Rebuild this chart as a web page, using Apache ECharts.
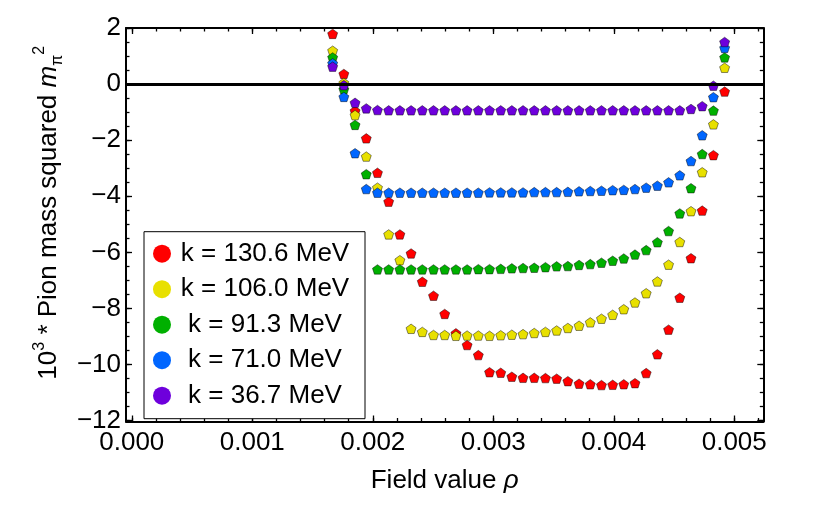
<!DOCTYPE html>
<html>
<head>
<meta charset="utf-8">
<script src="https://cdn.jsdelivr.net/npm/echarts@6/dist/echarts.min.js"></script>
<style>
html,body{margin:0;padding:0;background:#fff;}
#chart{width:830px;height:517px;}
</style>
</head>
<body>
<div id="chart"></div>
<script>
// ---- data ----
const rho = [0.001667, 0.001760, 0.001853, 0.001946, 0.002039, 0.002132, 0.002225, 0.002318, 0.002411, 0.002504,
             0.002597, 0.002690, 0.002783, 0.002876, 0.002969, 0.003062, 0.003154, 0.003247, 0.003340, 0.003433,
             0.003526, 0.003619, 0.003712, 0.003805, 0.003898, 0.003991, 0.004083, 0.004176, 0.004269, 0.004362,
             0.004455, 0.004548, 0.004641, 0.004734, 0.004827, 0.004920];

const seriesNames = ['k = 130.6 MeV', 'k = 106.0 MeV', 'k = 91.3 MeV', 'k = 71.0 MeV', 'k = 36.7 MeV'];

const k1306 = [1.80, 0.37, -0.95, -1.93, -3.16, -4.19, -5.36, -6.04, -7.05, -7.55,
               -8.20, -8.89, -9.31, -9.67, -10.28, -10.30, -10.44, -10.48, -10.48, -10.49,
               -10.51, -10.60, -10.69, -10.71, -10.74, -10.73, -10.71, -10.67, -10.31, -9.64,
               -8.76, -7.62, -6.21, -4.51, -2.53, -0.26];
const k1060 = [1.20, 0.05, -1.10, -2.58, -3.69, -5.36, -6.28, -8.73, -8.84, -8.95,
               -8.95, -8.98, -8.97, -8.97, -8.98, -8.96, -8.94, -8.92, -8.88, -8.84,
               -8.79, -8.70, -8.62, -8.50, -8.37, -8.23, -8.03, -7.79, -7.46, -7.04,
               -6.44, -5.63, -4.53, -3.14, -1.43, 0.59];
const k913 = [0.96, -0.18, -1.45, -3.21, -6.61, -6.61, -6.61, -6.61, -6.61, -6.61,
              -6.61, -6.61, -6.61, -6.60, -6.60, -6.59, -6.57, -6.56, -6.55, -6.53,
              -6.50, -6.49, -6.45, -6.42, -6.37, -6.30, -6.22, -6.08, -5.92, -5.64,
              -5.24, -4.61, -3.71, -2.49, -0.94, 0.96];
const k710 = [0.75, -0.45, -2.46, -3.74, -3.87, -3.87, -3.87, -3.87, -3.87, -3.87,
              -3.87, -3.87, -3.87, -3.87, -3.86, -3.86, -3.86, -3.86, -3.85, -3.85,
              -3.85, -3.84, -3.82, -3.81, -3.80, -3.78, -3.77, -3.74, -3.69, -3.62,
              -3.50, -3.25, -2.74, -1.82, -0.46, 1.30];
const k367 = [0.63, -0.03, -0.66, -0.86, -0.92, -0.93, -0.93, -0.93, -0.93, -0.93,
              -0.93, -0.93, -0.93, -0.93, -0.93, -0.93, -0.93, -0.93, -0.93, -0.93,
              -0.93, -0.93, -0.93, -0.93, -0.93, -0.93, -0.93, -0.93, -0.93, -0.93,
              -0.93, -0.93, -0.88, -0.78, -0.05, 1.51];

// tick values
const xMajorTicks = [0, 0.001, 0.002, 0.003, 0.004, 0.005];
const xMinorTicks = [0, 0.0002, 0.0004, 0.0006, 0.0008, 0.001, 0.0012, 0.0014, 0.0016, 0.0018, 0.002,
                     0.0022, 0.0024, 0.0026, 0.0028, 0.003, 0.0032, 0.0034, 0.0036, 0.0038, 0.004,
                     0.0042, 0.0044, 0.0046, 0.0048, 0.005, 0.0052];
const yMajorTicks = [-12, -10, -8, -6, -4, -2, 0, 2];
const yMinorTicks = [-12, -11.5, -11, -10.5, -10, -9.5, -9, -8.5, -8, -7.5, -7, -6.5, -6, -5.5, -5,
                     -4.5, -4, -3.5, -3, -2.5, -2, -1.5, -1, -0.5, 0, 0.5, 1, 1.5, 2];

// ---- styling ----
const FONT = '"Liberation Sans", Arial, Helvetica, sans-serif';
const colors = ['#ff0000', '#e8e000', '#00b000', '#0066ff', '#6e00dc'];
const pentagon = 'path://M50,0 L97.55,34.55 L79.39,90.45 L20.61,90.45 L2.45,34.55 Z';
const X_MIN = -0.000048, X_MAX = 0.005241;
const Y_MIN = -12.04, Y_MAX = 2.01;

function xAxisDef(pos, ticks, len, withLabel, withLine) {
  return {
    type: 'value', position: pos, min: X_MIN, max: X_MAX,
    axisLine: { show: withLine, onZero: false, lineStyle: { color: '#000', width: 2 } },
    axisTick: { show: true, inside: true, length: len, customValues: ticks, lineStyle: { color: '#000', width: 1.3 } },
    axisLabel: { show: withLabel, customValues: ticks, margin: 8, fontSize: 26, color: '#000', fontFamily: FONT,
                 formatter: v => Number(v).toFixed(3) },
    splitLine: { show: false }
  };
}
function yAxisDef(pos, ticks, len, withLabel, withLine) {
  return {
    type: 'value', position: pos, min: Y_MIN, max: Y_MAX,
    axisLine: { show: withLine, onZero: false, lineStyle: { color: '#000', width: 2 } },
    axisTick: { show: true, inside: true, length: len, customValues: ticks, lineStyle: { color: '#000', width: 1.3 } },
    axisLabel: { show: withLabel, customValues: ticks, margin: 5, fontSize: 26, color: '#000', fontFamily: FONT,
                 formatter: v => (v < 0 ? '\u2212' + Math.abs(v) : String(v)) },
    splitLine: { show: false }
  };
}

const xBottom = xAxisDef('bottom', xMajorTicks, 6, true, true);
xBottom.name = '{n|Field value }{it|\u03c1}';
xBottom.nameLocation = 'middle';
xBottom.nameGap = 44;
xBottom.nameTextStyle = {
  rich: {
    n: { fontFamily: FONT, fontSize: 26, color: '#000', lineHeight: 30 },
    it: { fontFamily: FONT, fontSize: 26, color: '#000', fontStyle: 'italic', lineHeight: 30 }
  }
};

const yLeft = yAxisDef('left', yMajorTicks, 6, true, true);
yLeft.name = '{n|10}{sup|3}{n| * Pion mass squared }{it|m}{sub|\u03c0}{sup|2}';
yLeft.nameLocation = 'middle';
yLeft.nameRotate = 90;
yLeft.nameGap = 47;
yLeft.nameTextStyle = {
  padding: [0, 0, 0, 24],
  rich: {
    n: { fontFamily: FONT, fontSize: 26, color: '#000', lineHeight: 34 },
    it: { fontFamily: FONT, fontSize: 26, color: '#000', fontStyle: 'italic', lineHeight: 34 },
    sup: { fontFamily: FONT, fontSize: 16, color: '#000', lineHeight: 16, verticalAlign: 'top' },
    sub: { fontFamily: FONT, fontSize: 16, color: '#000', lineHeight: 16, verticalAlign: 'bottom' }
  }
};

const valueSets = [k1306, k1060, k913, k710, k367];
const scatterSeries = valueSets.map((vals, i) => ({
  type: 'scatter',
  name: seriesNames[i],
  xAxisIndex: 0, yAxisIndex: 0,
  data: rho.map((x, j) => [x, vals[j]]),
  symbol: pentagon,
  symbolSize: [10, 9.5],
  itemStyle: { color: colors[i], borderColor: 'rgba(0,0,0,0.75)', borderWidth: 0.6, opacity: 1 },
  emphasis: { disabled: true },
  z: 3
}));

const zeroLine = {
  type: 'line', name: 'zero', xAxisIndex: 0, yAxisIndex: 0, data: [], z: 1,
  markLine: {
    silent: true, symbol: ['none', 'none'], label: { show: false },
    lineStyle: { color: '#000', width: 3, type: 'solid' },
    data: [{ yAxis: 0 }]
  }
};

const option = {
  animation: false,
  backgroundColor: '#fff',
  grid: { left: 126, top: 28, width: 637.3, height: 393.5 },
  legend: {
    data: seriesNames,
    orient: 'vertical', left: 144, top: 231.7,
    padding: [9, 15, 10, 9],
    itemWidth: 26, itemHeight: 18, itemGap: 9.5,
    icon: 'circle',
    borderColor: '#000', borderWidth: 1, backgroundColor: '#fff',
    itemStyle: { borderWidth: 0 },
    formatter: name => '{c|' + name + '}',
    textStyle: {
      fontFamily: FONT, fontSize: 26, color: '#000', lineHeight: 26,
      rich: { c: { width: 170, align: 'center', fontFamily: FONT, fontSize: 26, color: '#000', lineHeight: 26 } }
    },
    selectedMode: false,
    z: 10
  },
  xAxis: [
    xBottom,
    xAxisDef('top', xMajorTicks, 6, false, true),
    xAxisDef('bottom', xMinorTicks, 3.5, false, false),
    xAxisDef('top', xMinorTicks, 3.5, false, false)
  ],
  yAxis: [
    yLeft,
    yAxisDef('right', yMajorTicks, 6, false, true),
    yAxisDef('left', yMinorTicks, 3.5, false, false),
    yAxisDef('right', yMinorTicks, 3.5, false, false)
  ],
  series: [zeroLine].concat(scatterSeries)
};

const chart = echarts.init(document.getElementById('chart'), null, { renderer: 'canvas' });
chart.setOption(option);
</script>
</body>
</html>
